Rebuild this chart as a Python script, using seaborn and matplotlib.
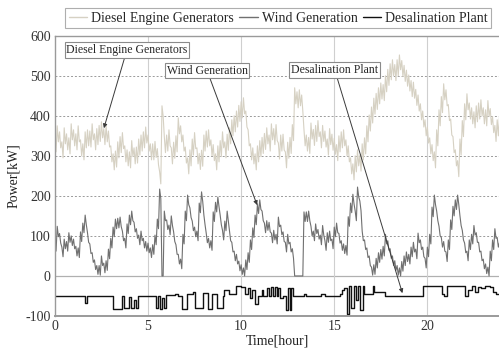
import numpy as np
import pandas as pd
import matplotlib
matplotlib.use("Agg")
import matplotlib.pyplot as plt
import seaborn as sns

# ---- data: power profiles over one day, sampled every 3.75 minutes ----
hours = np.arange(0, 24, 0.0625)

diesel_kw = [
    350, 310, 375, 335, 360, 320, 335, 295, 370, 330, 355, 315, 345, 305, 380, 340,
    365, 325, 355, 315, 375, 335, 340, 300, 330, 290, 360, 320, 365, 325, 362, 322,
    380, 340, 355, 315, 368, 328, 376, 336, 385, 345, 368, 328, 375, 335, 362, 322,
    325, 285, 305, 265, 312, 272, 335, 295, 348, 308, 358, 318, 325, 285, 315, 275,
    310, 270, 338, 298, 320, 280, 322, 282, 342, 302, 352, 312, 360, 320, 372, 332,
    352, 312, 330, 290, 330, 290, 336, 296, 318, 278, 260, 230, 425, 400, 348, 308,
    352, 312, 365, 325, 320, 280, 334, 294, 350, 310, 395, 355, 375, 335, 352, 312,
    322, 282, 295, 255, 315, 275, 342, 302, 358, 318, 320, 280, 306, 266, 314, 274,
    352, 312, 362, 322, 365, 325, 340, 300, 328, 288, 305, 265, 325, 285, 338, 298,
    360, 320, 335, 295, 354, 314, 370, 330, 390, 350, 400, 360, 412, 372, 426, 386,
    435, 395, 445, 405, 412, 372, 365, 325, 330, 290, 320, 280, 305, 265, 325, 285,
    338, 298, 346, 306, 356, 316, 370, 330, 352, 312, 380, 340, 368, 328, 378, 338,
    332, 292, 352, 312, 354, 314, 310, 270, 334, 294, 346, 306, 378, 338, 470, 430,
    460, 420, 465, 425, 452, 412, 365, 325, 352, 312, 346, 306, 382, 342, 366, 326,
    376, 336, 388, 348, 360, 320, 376, 336, 362, 322, 342, 302, 368, 328, 354, 314,
    344, 304, 328, 288, 350, 310, 360, 320, 365, 325, 340, 300, 325, 285, 295, 255,
    280, 240, 300, 260, 315, 275, 302, 262, 330, 290, 345, 305, 375, 335, 402, 362,
    422, 382, 444, 404, 456, 416, 470, 430, 482, 442, 478, 438, 500, 460, 516, 476,
    530, 490, 540, 500, 528, 488, 540, 500, 552, 515, 538, 498, 526, 486, 514, 474,
    502, 462, 488, 448, 484, 444, 466, 426, 452, 412, 430, 390, 412, 372, 390, 350,
    372, 332, 345, 305, 328, 288, 310, 270, 365, 325, 415, 375, 448, 408, 480, 440,
    465, 425, 428, 388, 392, 352, 348, 308, 315, 275, 288, 248, 342, 302, 388, 348,
    430, 390, 455, 415, 432, 392, 420, 380, 410, 370, 425, 385, 432, 392, 440, 400,
    420, 380, 415, 375, 438, 398, 418, 378, 398, 358, 376, 336, 390, 350, 400, 360,
]

wind_kw = [
    86, 62, 124, 98, 106, 82, 72, 48, 92, 68, 86, 62, 108, 84, 100, 76,
    92, 68, 74, 50, 70, 46, 110, 86, 132, 108, 152, 128, 108, 84, 80, 56,
    58, 34, 40, 16, 26, 4, 26, 2, 50, 26, 32, 8, 38, 14, 67, 43,
    94, 70, 122, 98, 142, 118, 144, 120, 147, 123, 112, 88, 94, 70, 130, 106,
    152, 128, 162, 138, 134, 110, 118, 94, 102, 78, 112, 88, 94, 70, 86, 62,
    82, 58, 70, 46, 78, 54, 102, 78, 142, 118, 217, 193, 0, 0, 162, 138,
    140, 116, 127, 103, 150, 126, 110, 86, 78, 54, 54, 30, 42, 18, 104, 80,
    162, 138, 202, 178, 170, 146, 137, 113, 122, 98, 112, 88, 182, 158, 210, 186,
    152, 128, 107, 83, 94, 70, 88, 64, 160, 136, 184, 160, 197, 173, 152, 128,
    114, 90, 137, 113, 162, 138, 112, 88, 84, 60, 62, 38, 54, 30, 37, 13,
    28, 4, 20, 0, 40, 16, 58, 34, 90, 66, 120, 96, 152, 128, 180, 156,
    190, 166, 162, 138, 132, 108, 138, 114, 134, 110, 107, 83, 114, 90, 104, 80,
    147, 123, 127, 103, 110, 86, 84, 60, 104, 80, 84, 60, 68, 44, 0, 0,
    0, 0, 0, 0, 0, 0, 160, 136, 160, 136, 162, 138, 124, 100, 112, 88,
    130, 106, 116, 92, 102, 78, 126, 102, 88, 64, 108, 84, 112, 88, 92, 68,
    122, 98, 132, 108, 106, 82, 88, 64, 80, 56, 76, 52, 148, 124, 182, 158,
    204, 180, 162, 138, 222, 198, 187, 163, 112, 88, 90, 66, 70, 46, 50, 26,
    22, 2, 28, 4, 44, 20, 58, 34, 66, 42, 74, 50, 104, 80, 88, 64,
    68, 44, 50, 26, 38, 14, 26, 2, 20, 0, 36, 12, 50, 26, 60, 36,
    54, 30, 72, 48, 84, 60, 67, 43, 107, 83, 90, 66, 72, 48, 44, 20,
    72, 48, 104, 80, 172, 148, 202, 178, 162, 138, 124, 100, 96, 72, 86, 62,
    60, 36, 90, 66, 140, 116, 174, 150, 190, 166, 202, 178, 150, 126, 114, 90,
    82, 58, 62, 38, 90, 66, 104, 80, 126, 102, 108, 84, 84, 60, 62, 38,
    42, 18, 30, 6, 22, 0, 62, 38, 90, 66, 118, 94, 96, 72, 84, 60,
]

# desalination plant load: switching instants [hour] and the level held after each
desal_hours = [
    0.00, 1.62, 1.70, 3.14, 3.58, 3.73, 3.98, 4.10, 4.25, 4.35, 4.48,
    5.45, 5.55, 5.62, 5.75, 5.85, 5.95, 6.45, 6.60, 6.80, 7.10, 7.40,
    7.55, 7.95, 8.20, 8.45, 8.70, 9.00, 9.10, 9.35, 9.75, 10.00, 10.20,
    10.35, 10.50, 10.60, 10.75, 10.90, 11.10, 11.20, 11.40, 11.50, 11.60,
    11.70, 11.80, 11.90, 12.00, 12.10, 12.25, 12.40, 12.50, 12.60, 12.70,
    12.80, 13.40, 13.50, 14.30, 14.50, 15.30, 15.40, 15.55, 15.70, 15.80,
    15.90, 16.05, 16.15, 16.30, 16.40, 16.55, 16.60, 17.10, 17.15, 17.70,
    19.75, 20.80, 20.90, 21.05, 21.20, 22.00, 22.20, 22.40, 22.55, 22.70,
    22.90, 23.10, 23.35, 23.50, 23.70, 23.90,
]
desal_kw = [
    -50, -68, -50, -82, -50, -80, -52, -80, -60, -80, -50,
    -80, -50, -82, -55, -80, -48, -45, -50, -82, -45, -40,
    -80, -42, -82, -45, -80, -50, -35, -45, -25, -28, -45,
    -30, -55, -35, -70, -50, -35, -50, -30, -50, -28,
    -50, -28, -50, -30, -55, -50, -85, -30, -85, -30,
    -50, -45, -50, -45, -50, -45, -35, -30, -95, -25,
    -80, -25, -60, -25, -85, -25, -45, -25, -40, -50,
    -25, -45, -50, -25, -25, -50, -35, -25, -40, -28,
    -30, -25, -28, -40, -45, -45,
]

series_names = ["Diesel Engine Generators", "Wind Generation", "Desalination Plant"]
series_colors = ["#d6d1c3", "#707070", "#111111"]
serif = ["Liberation Serif", "DejaVu Serif"]

sns.set_style("white")
plt.rcParams["font.family"] = serif
plt.rcParams["axes.unicode_minus"] = False

profile = pd.DataFrame({"hour": hours, "diesel": diesel_kw, "wind": wind_kw})
desal = pd.DataFrame({"hour": desal_hours, "kw": desal_kw})

fig = plt.figure(figsize=(4.99, 3.49), dpi=100)
ax = fig.add_axes([0.110, 0.0946, 0.892, 0.803])

# grid: dotted horizontal lines, light solid verticals
for yv in [100, 200, 300, 400, 500]:
    ax.axhline(yv, color="#9a9a9a", lw=0.7, ls=(0, (2, 2)), zorder=0)
ax.axhline(0, color="#b0b0b0", lw=0.9, zorder=0)
for xv in [5, 10, 15, 20]:
    ax.axvline(xv, color="#cfcfcf", lw=0.8, zorder=0)

sns.lineplot(data=profile, x="hour", y="diesel", ax=ax, color=series_colors[0],
             lw=0.8, estimator=None, sort=False, label=series_names[0], legend=False)
sns.lineplot(data=profile, x="hour", y="wind", ax=ax, color=series_colors[1],
             lw=0.8, estimator=None, sort=False, label=series_names[1], legend=False)
sns.lineplot(data=desal, x="hour", y="kw", ax=ax, color=series_colors[2],
             lw=1.0, estimator=None, sort=False, drawstyle="steps-post",
             label=series_names[2], legend=False)

ax.set_xlim(0, 23.9)
ax.set_ylim(-100, 600)
ax.set_xticks([0, 5, 10, 15, 20])
ax.set_yticks([-100, 0, 100, 200, 300, 400, 500, 600])
ax.tick_params(length=0, labelsize=10, pad=3, colors="#333333")
ax.set_xlabel("Time[hour]", fontsize=10, labelpad=1, color="#222222")
ax.set_ylabel("Power[kW]", fontsize=10, labelpad=4, color="#222222")

for side in ["left", "bottom", "top"]:
    ax.spines[side].set_color("#9a9a9a")
    ax.spines[side].set_linewidth(1.0)
ax.spines["right"].set_visible(False)
ax.spines["bottom"].set_linewidth(1.4)

# callout labels with arrows
box = dict(boxstyle="square,pad=0.15", fc="white", ec="#8a8a8a", lw=0.8)
arrow = dict(arrowstyle="-|>", color="#3a3a3a", lw=0.7, mutation_scale=6,
             shrinkA=0, shrinkB=0)
ax.annotate("Diesel Engine Generators", xy=(2.63, 369), xytext=(3.87, 565),
            ha="center", va="center", fontsize=8.5, bbox=box, arrowprops=arrow)
ax.annotate("Wind Generation", xy=(10.86, 177), xytext=(8.17, 513),
            ha="center", va="center", fontsize=8.5, bbox=box, arrowprops=arrow)
ax.annotate("Desalination Plant", xy=(18.66, -43), xytext=(15.03, 514),
            ha="center", va="center", fontsize=8.5, bbox=box, arrowprops=arrow)

handles, labels = ax.get_legend_handles_labels()
leg = fig.legend(handles, labels, loc="center", bbox_to_anchor=(0.558, 0.948),
                 ncol=3, fontsize=10, frameon=True, fancybox=False,
                 handlelength=1.3, handletextpad=0.3, columnspacing=0.4,
                 borderpad=0.25, borderaxespad=0)
leg.get_frame().set_edgecolor("#9a9a9a")
leg.get_frame().set_linewidth(0.8)
for line in leg.get_lines():
    line.set_linewidth(1.0)

fig.savefig("out.png", dpi=100)
